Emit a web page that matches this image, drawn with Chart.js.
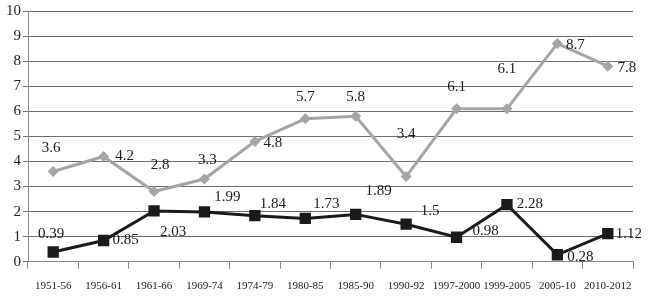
<!DOCTYPE html>
<html>
<head>
<meta charset="utf-8">
<script src="https://cdn.jsdelivr.net/npm/chart.js@4"></script>
<style>
  html, body { margin: 0; padding: 0; background: #fff; }
  #wrap { width: 649px; height: 306px; }
</style>
</head>
<body>
<div id="wrap"><canvas id="chart" width="649" height="306"></canvas></div>
<script>
// periods on the x axis
var periods = ['1951-56', '1956-61', '1961-66', '1969-74', '1974-79', '1980-85',
    '1985-90', '1990-92', '1997-2000', '1999-2005', '2005-10', '2010-2012'];

// gray series (diamonds)
var graySeries = [3.6, 4.2, 2.8, 3.3, 4.8, 5.7, 5.8, 3.4, 6.1, 6.1, 8.7, 7.8];

// black series (squares)
var blackSeries = [0.39, 0.85, 2.03, 1.99, 1.84, 1.73, 1.89, 1.5, 0.98, 2.28, 0.28, 1.12];

var yTicks = [0, 1, 2, 3, 4, 5, 6, 7, 8, 9, 10];

// where each value label sits relative to its point (px)
var grayLabelOffsets = [[-2, -23], [21, 0], [6, -27], [3, -19], [18, 2], [0, -22],
    [0, -19], [0, -42], [0, -22], [0, -40], [18, 1], [19, 2]];
var blackLabelOffsets = [[-2, -18], [22, 0], [19, 21], [23, -15], [18, -12], [21, -14],
    [23, -23], [24, -13], [29, -6], [23, -1], [23, 2], [21, 0]];

var serif = '"Liberation Serif", "DejaVu Serif", serif';

// simple value label plugin
var valueLabels = {
    id: 'valueLabels',
    afterDatasetsDraw: function (chart) {
        var ctx = chart.ctx;
        ctx.save();
        ctx.font = '15px ' + serif;
        ctx.fillStyle = '#1a1a1a';
        ctx.textAlign = 'center';
        ctx.textBaseline = 'middle';
        chart.data.datasets.forEach(function (ds, di) {
            var meta = chart.getDatasetMeta(di);
            var offs = di === 0 ? grayLabelOffsets : blackLabelOffsets;
            meta.data.forEach(function (pt, i) {
                ctx.fillText(String(ds.data[i]), pt.x + offs[i][0], pt.y + offs[i][1]);
            });
        });
        ctx.restore();
    }
};

new Chart(document.getElementById('chart'), {
    type: 'line',
    data: {
        labels: periods,
        datasets: [{
            label: 'gray',
            data: graySeries,
            borderColor: '#a5a5a5',
            backgroundColor: '#a5a5a5',
            borderWidth: 3,
            pointStyle: 'rectRot',
            pointRadius: 5.5,
            pointBorderWidth: 0,
            tension: 0
        }, {
            label: 'black',
            data: blackSeries,
            borderColor: '#1a1a1a',
            backgroundColor: '#1a1a1a',
            borderWidth: 3,
            pointStyle: 'rect',
            pointRadius: 8,
            pointBorderWidth: 0,
            tension: 0
        }]
    },
    options: {
        responsive: false,
        animation: false,
        layout: { padding: { top: 9, right: 16, bottom: 2, left: 4 } },
        plugins: { legend: { display: false }, tooltip: { enabled: false } },
        scales: {
            x: {
                offset: true,
                grid: {
                    offset: true,
                    drawOnChartArea: false,
                    drawTicks: true,
                    tickLength: 7,
                    color: '#8c8c8c'
                },
                border: { display: true, color: '#8c8c8c' },
                ticks: {
                    color: '#222',
                    font: { family: serif, size: 11 },
                    maxRotation: 0,
                    autoSkip: false,
                    padding: 11
                }
            },
            y: {
                min: 0,
                max: 10,
                afterBuildTicks: function (axis) {
                    axis.ticks = yTicks.map(function (v) { return { value: v }; });
                },
                grid: {
                    color: '#6e6e6e',
                    tickLength: 5
                },
                border: { display: true, color: '#8c8c8c' },
                ticks: {
                    color: '#222',
                    font: { family: serif, size: 15 },
                    padding: 2
                }
            }
        }
    },
    plugins: [valueLabels]
});
</script>
</body>
</html>
